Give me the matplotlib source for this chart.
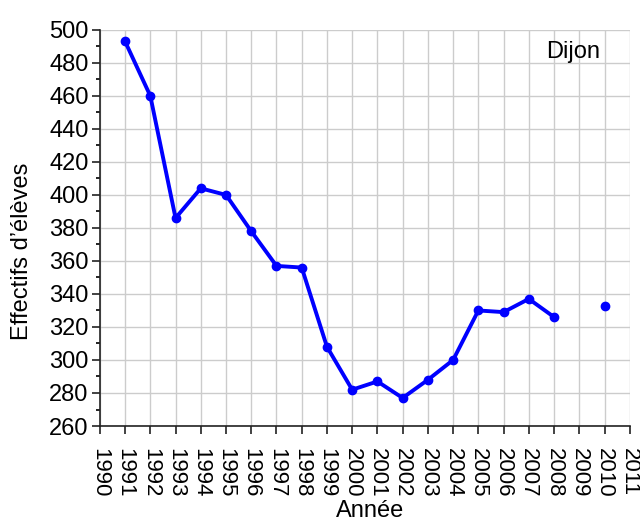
import numpy as np
import matplotlib.pyplot as plt

plt.rcParams['font.family'] = ['Liberation Sans', 'DejaVu Sans']

years = [1991, 1992, 1993, 1994, 1995, 1996, 1997, 1998, 1999, 2000,
         2001, 2002, 2003, 2004, 2005, 2006, 2007, 2008, 2009, 2010]
effectifs = [493, 460, 386, 404, 400, 378, 357, 356, 308, 282,
             287, 277, 288, 300, 330, 329, 337, 326, np.nan, 333]

fig = plt.figure(figsize=(6.4, 5.24), dpi=100)
ax = fig.add_axes([0.156, 0.187, 0.828, 0.756])

ax.plot(years, effectifs, color='#0000ff', lw=2.8, marker='o', ms=6, zorder=3)

ax.set_xlim(1990, 2011)
ax.set_ylim(260, 500)
ax.set_xticks(range(1990, 2012))
ax.set_xticklabels([str(y) for y in range(1990, 2012)], rotation=270)
ax.set_yticks(range(260, 501, 20))
ax.set_yticks(range(270, 500, 20), minor=True)
ax.grid(True, color='#cccccc', lw=1)
ax.set_axisbelow(True)

for s in ['top', 'right']:
    ax.spines[s].set_visible(False)
for s in ['left', 'bottom']:
    ax.spines[s].set_color('#222222')
    ax.spines[s].set_linewidth(1.2)
ax.tick_params(labelsize=17, length=6, width=1.2, color='#222222')
ax.tick_params(axis='x', pad=10, labelsize=16)
ax.tick_params(axis='y', pad=2)
ax.tick_params(which='minor', length=3, width=1.2)

ax.set_xlabel('Année', fontsize=17)
ax.xaxis.set_label_coords(0.51, -0.186)
ax.set_ylabel('Effectifs d\u2019élèves', fontsize=17)
ax.yaxis.set_label_coords(-0.126, 0.44)
ax.text(0.945, 0.972, 'Dijon', transform=ax.transAxes, ha='right', va='top', fontsize=17)

fig.savefig('out.png', dpi=100)
